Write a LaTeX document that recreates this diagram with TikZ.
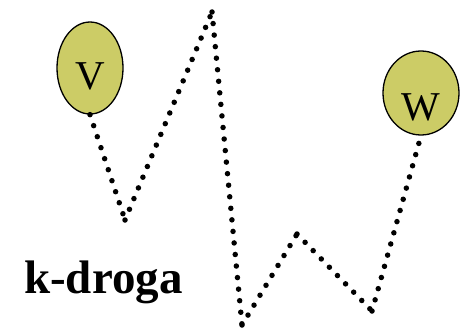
\documentclass[tikz,border=0pt]{standalone}
\usepackage{fontspec}
\setmainfont{Liberation Serif}
\usetikzlibrary{shapes.geometric}
\definecolor{olive}{RGB}{204,204,102}
\tikzset{
  vert/.style={ellipse, draw=black, line width=1.3pt, fill=olive, inner sep=0pt},
  dotline/.style={line width=5.5pt, line cap=round, dash pattern=on 0pt off 11.6pt},
  lbl/.style={anchor=base, inner sep=0pt, font=\fontsize{41}{41}\selectfont}
}
\begin{document}
\begin{tikzpicture}[x=1pt,y=-1pt]
\useasboundingbox (0,0) rectangle (460,329);
\node[vert, minimum width=66pt, minimum height=92pt] (v) at (90,68) {};
\node[vert, minimum width=76pt, minimum height=84pt] (w) at (421,93) {};
\node[lbl] (vl) at (90,89) {V};
\node[lbl] (wl) at (421,120) {W};
\coordinate (p1) at (125,220);
\coordinate (p2) at (212,12);
\coordinate (p3) at (242,325);
\coordinate (p4) at (297,234);
\coordinate (p5) at (372,311);
\draw[dotline] (v.south) -- (p1);
\draw[dotline] (p1) -- (p2);
\draw[dotline] (p2) -- (p3);
\draw[dotline] (p3) -- (p4);
\draw[dotline] (p4) -- (p5);
\draw[dotline] (p5) -- (w.south);
\node[anchor=base west, inner sep=0pt, font=\bfseries\fontsize{47}{47}\selectfont] (t) at (24,293) {k-droga};
\end{tikzpicture}
\end{document}
